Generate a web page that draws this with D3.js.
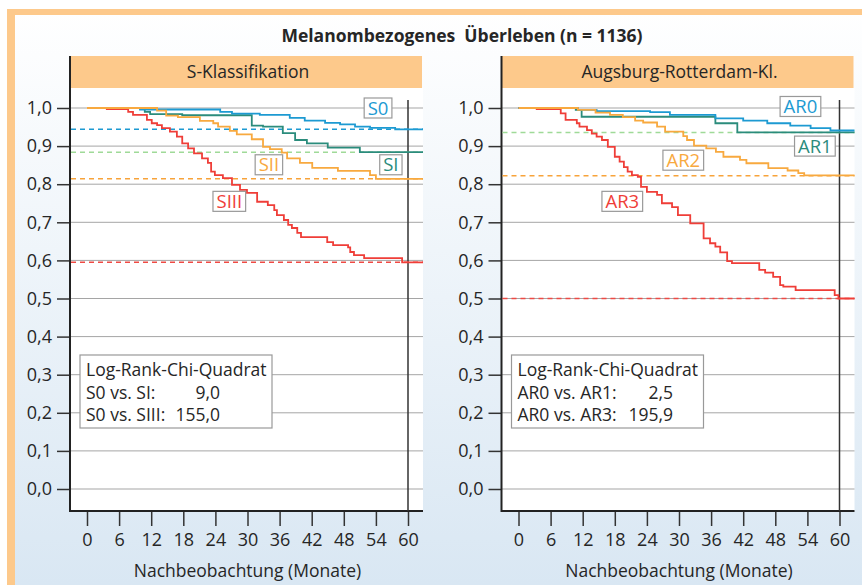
<!DOCTYPE html>
<html>
<head>
<meta charset="utf-8">
<script src="https://cdn.jsdelivr.net/npm/d3@7"></script>
<style>
  body { margin: 0; background: #fff; }
  svg { display: block; font-family: "Open Sans", sans-serif; }
</style>
</head>
<body>
<div id="chart"></div>
<script>
// ---- data ----
const title = "Melanombezogenes  Überleben (n = 1136)";
const xTitle = "Nachbeobachtung (Monate)";
const monthTicks = [0, 6, 12, 18, 24, 30, 36, 42, 48, 54, 60];
const survTicks = [0, 0.1, 0.2, 0.3, 0.4, 0.5, 0.6, 0.7, 0.8, 0.9, 1.0];

// S-Klassifikation
const s0Months = [0, 9.9, 24.9, 27.1, 32.3, 37.9, 40.7, 44.5, 47.3, 50.1, 52.9, 57.6];
const s0Surv = [1.0, 0.996, 0.990, 0.985, 0.982, 0.974, 0.967, 0.961, 0.957, 0.951, 0.948, 0.944];
const s1Months = [0, 10.8, 11.8, 17.8, 30.8, 32.9, 36.6, 38.9, 41.1, 45.0, 51.0];
const s1Surv = [1.0, 0.990, 0.984, 0.981, 0.954, 0.951, 0.934, 0.916, 0.907, 0.896, 0.884];
const s2Months = [0, 13.1, 14.8, 17.0, 21.1, 23.6, 24.5, 26.7, 28.0, 30.8, 32.9, 34.2, 36.4, 37.4, 39.8, 42.1, 46.9, 52.9, 54.0];
const s2Surv = [1.0, 0.993, 0.980, 0.976, 0.966, 0.960, 0.951, 0.940, 0.931, 0.918, 0.898, 0.892, 0.883, 0.868, 0.856, 0.843, 0.835, 0.824, 0.814];
const s3Months = [0, 3.7, 7.7, 8.6, 11.2, 12.1, 13.1, 14.0, 15.5, 16.8, 17.8, 18.9, 20.0, 21.5, 22.6, 23.2, 23.9, 25.4, 27.1, 28.6, 29.9, 31.8, 33.8, 35.0, 35.5, 36.8, 37.6, 38.3, 39.3, 40.0, 44.9, 46.0, 48.8, 49.2, 49.9, 51.8, 58.9];
const s3Surv = [1.0, 0.997, 0.990, 0.982, 0.969, 0.960, 0.955, 0.947, 0.938, 0.925, 0.907, 0.894, 0.881, 0.868, 0.856, 0.833, 0.824, 0.816, 0.798, 0.785, 0.777, 0.754, 0.745, 0.732, 0.719, 0.706, 0.693, 0.685, 0.672, 0.661, 0.648, 0.640, 0.634, 0.622, 0.614, 0.606, 0.595];
const sPlateaus = [0.944, 0.884, 0.814, 0.595];
const sStatLabels = ["S0 vs. SI:", "S0 vs. SIII:"];
const sStatValues = ["9,0", "155,0"];

// Augsburg-Rotterdam-Klassifikation
const ar0Months = [0, 11.1, 14.6, 24.6, 28.3, 36.8, 42.0, 46.5, 50.8, 54.6, 58.3];
const ar0Surv = [1.0, 0.995, 0.992, 0.989, 0.982, 0.973, 0.967, 0.960, 0.954, 0.947, 0.941];
const ar1Months = [0, 10.7, 11.8, 36.8, 40.9];
const ar1Surv = [1.0, 0.995, 0.977, 0.960, 0.936];
const ar2Months = [0, 11.1, 14.4, 17.1, 19.5, 21.8, 23.3, 25.9, 27.4, 30.8, 31.5, 32.8, 35.1, 36.9, 38.3, 41.4, 42.6, 46.7, 50.3, 52.3, 53.4];
const ar2Surv = [1.0, 0.995, 0.988, 0.982, 0.976, 0.967, 0.962, 0.951, 0.938, 0.926, 0.916, 0.901, 0.894, 0.885, 0.872, 0.864, 0.855, 0.842, 0.836, 0.829, 0.823];
const ar3Months = [0, 3.4, 7.9, 8.8, 10.9, 11.4, 12.8, 13.7, 14.6, 15.6, 16.7, 18.0, 18.9, 19.7, 20.4, 21.2, 22.3, 22.9, 24.0, 25.9, 26.8, 28.7, 29.8, 32.1, 34.6, 35.8, 36.8, 37.7, 39.0, 39.9, 45.0, 46.1, 47.6, 48.9, 49.5, 51.8, 59.1, 59.8];
const ar3Surv = [1.0, 0.997, 0.986, 0.969, 0.960, 0.951, 0.942, 0.933, 0.925, 0.916, 0.898, 0.872, 0.859, 0.845, 0.833, 0.824, 0.819, 0.793, 0.780, 0.772, 0.750, 0.740, 0.719, 0.697, 0.658, 0.645, 0.636, 0.621, 0.598, 0.593, 0.575, 0.568, 0.557, 0.535, 0.531, 0.522, 0.509, 0.500];
const arPlateaus = [null, 0.936, 0.822, 0.500];
const arStatLabels = ["AR0 vs. AR1:", "AR0 vs. AR3:"];
const arStatValues = ["2,5", "195,9"];

const statHeader = "Log-Rank-Chi-Quadrat";

// ---- styling ----
const W = 862, H = 585;
const colors = ["#1d9ad2", "#2b8c7c", "#f8a93f", "#ef3e38"];
const dashColors = ["#1d9ad2", "#9fda98", "#f8a33a", "#ef4a44"];
const textColor = "#262626";
const headerFill = "#fdc98b";
const fontSize = 17.5;

const fmt = d3.formatLocale({ decimal: ",", thousands: ".", grouping: [3], currency: ["", "€"] }).format(".1f");

const svg = d3.select("#chart").append("svg")
  .attr("width", W)
  .attr("height", H);

const defs = svg.append("defs");
const grad = defs.append("linearGradient")
  .attr("id", "bg").attr("x1", 0).attr("y1", 0).attr("x2", 0).attr("y2", 1);
grad.append("stop").attr("offset", "0%").attr("stop-color", "#ffffff");
grad.append("stop").attr("offset", "100%").attr("stop-color", "#d9e7f3");

svg.append("rect").attr("width", W).attr("height", H).attr("fill", "#fff");
svg.append("rect").attr("x", 7).attr("y", 9).attr("width", W - 7).attr("height", H - 9).attr("fill", "url(#bg)");
// orange frame (top and left)
svg.append("rect").attr("x", 7).attr("y", 9).attr("width", W - 7).attr("height", 6).attr("fill", headerFill);
svg.append("rect").attr("x", 7).attr("y", 9).attr("width", 8).attr("height", H - 9).attr("fill", headerFill);

svg.append("text")
  .attr("x", 462).attr("y", 42)
  .attr("text-anchor", "middle")
  .style("white-space", "pre")
  .attr("font-weight", "bold")
  .attr("font-size", 17.5)
  .attr("fill", textColor)
  .text(title);

const y = d3.scaleLinear().domain([0, 1]).range([489, 108]);

const panels = [
  {
    axisX: 70,
    header: "S-Klassifikation",
    series: [
      { name: "S0", months: s0Months, surv: s0Surv, label: [54.4, 1.0] },
      { name: "SI", months: s1Months, surv: s1Surv, label: [56.8, 0.851] },
      { name: "SII", months: s2Months, surv: s2Surv, label: [34.0, 0.851] },
      { name: "SIII", months: s3Months, surv: s3Surv, label: [26.6, 0.755] }
    ],
    plateaus: sPlateaus,
    statLabels: sStatLabels,
    statValues: sStatValues,
    valueRight: 140
  },
  {
    axisX: 501.5,
    header: "Augsburg-Rotterdam-Kl.",
    series: [
      { name: "AR0", months: ar0Months, surv: ar0Surv, label: [52.7, 1.004] },
      { name: "AR1", months: ar1Months, surv: ar1Surv, label: [55.4, 0.90] },
      { name: "AR2", months: ar2Months, surv: ar2Surv, label: [30.8, 0.863] },
      { name: "AR3", months: ar3Months, surv: ar3Surv, label: [19.4, 0.755] }
    ],
    plateaus: arPlateaus,
    statLabels: arStatLabels,
    statValues: arStatValues,
    valueRight: 161.5
  }
];

const panelW = 353;
const drawOrder = [3, 1, 0, 2];

panels.forEach(p => {
  const x0 = p.axisX;
  const x = d3.scaleLinear().domain([0, 60]).range([x0 + 17, x0 + 338]);
  const endMonth = x.invert(x0 + panelW);
  const g = svg.append("g");

  // white plot area + header band
  g.append("rect").attr("x", x0).attr("y", 88).attr("width", panelW).attr("height", 511 - 88).attr("fill", "#fff");
  g.append("rect").attr("x", x0).attr("y", 56).attr("width", panelW - 1).attr("height", 32).attr("fill", headerFill);
  g.append("text")
    .attr("x", x0 + 178).attr("y", 77.5)
    .attr("text-anchor", "middle")
    .attr("font-size", fontSize)
    .attr("fill", textColor)
    .text(p.header);

  // horizontal gridlines
  g.append("g").selectAll("line")
    .data(survTicks)
    .join("line")
    .attr("x1", x0).attr("x2", x0 + panelW)
    .attr("y1", d => y(d)).attr("y2", d => y(d))
    .attr("stroke", "#a5a5a5")
    .attr("stroke-width", 1);

  // y axis
  const yAxis = g.append("g")
    .attr("transform", `translate(${x0},0)`)
    .call(d3.axisLeft(y).tickValues(survTicks).tickSize(13).tickPadding(5).tickFormat(fmt));
  yAxis.select(".domain").remove();
  yAxis.selectAll("line").attr("stroke", "#333").attr("stroke-width", 1.5);
  yAxis.selectAll("text").attr("font-size", 18).attr("fill", textColor).attr("font-family", "Open Sans");

  // x axis
  const xAxis = g.append("g")
    .attr("transform", "translate(0,511)")
    .call(d3.axisBottom(x).tickValues(monthTicks).tickSize(15).tickPadding(7));
  xAxis.select(".domain").remove();
  xAxis.selectAll("line").attr("stroke", "#333").attr("stroke-width", 1.5);
  xAxis.selectAll("text").attr("font-size", 18).attr("fill", textColor).attr("font-family", "Open Sans");

  g.append("text")
    .attr("x", x(30)).attr("y", 577)
    .attr("text-anchor", "middle")
    .attr("font-size", fontSize)
    .attr("fill", textColor)
    .text(xTitle);

  // axis frame lines
  g.append("line").attr("x1", x0).attr("x2", x0).attr("y1", 56).attr("y2", 512)
    .attr("stroke", "#222").attr("stroke-width", 2);
  g.append("line").attr("x1", x0).attr("x2", x0 + panelW).attr("y1", 511).attr("y2", 511)
    .attr("stroke", "#222").attr("stroke-width", 2);
  g.append("line").attr("x1", x(60)).attr("x2", x(60)).attr("y1", 100).attr("y2", 511)
    .attr("stroke", "#333").attr("stroke-width", 1.5);

  // plateau (dashed) lines
  g.append("g").selectAll("line")
    .data(p.plateaus.map((v, i) => ({ v, i })).filter(d => d.v !== null))
    .join("line")
    .attr("x1", x0 + 1).attr("x2", x0 + panelW)
    .attr("y1", d => y(d.v)).attr("y2", d => y(d.v))
    .attr("stroke", d => dashColors[d.i])
    .attr("stroke-width", 1.5)
    .attr("stroke-dasharray", "5,4");

  // survival step curves
  const line = d3.line()
    .x(d => x(d[0]))
    .y(d => y(d[1]))
    .curve(d3.curveStepAfter);

  drawOrder.forEach(i => {
    const s = p.series[i];
    const pts = s.months.map((m, k) => [m, s.surv[k]]);
    pts.push([endMonth, s.surv[s.surv.length - 1]]);
    g.append("path")
      .datum(pts)
      .attr("fill", "none")
      .attr("stroke", colors[i])
      .attr("stroke-width", 1.8)
      .attr("d", line);
  });

  // curve labels in boxes
  p.series.forEach((s, i) => {
    const lg = g.append("g").attr("transform", `translate(${x(s.label[0])},${y(s.label[1])})`);
    const r = lg.append("rect").attr("fill", "#fff").attr("stroke", "#999").attr("stroke-width", 1.2);
    const t = lg.append("text")
      .attr("text-anchor", "middle")
      .attr("dy", "0.36em")
      .attr("font-size", 18.5)
      .attr("fill", colors[i])
      .text(s.name);
    const w = t.node().getComputedTextLength() + 7;
    r.attr("x", -w / 2).attr("y", -10).attr("width", w).attr("height", 20);
  });

  // log-rank box
  const sb = g.append("g").attr("transform", `translate(${x0 + 10},355)`);
  sb.append("rect").attr("width", 192).attr("height", 73)
    .attr("fill", "#fff").attr("stroke", "#999").attr("stroke-width", 1.2);
  sb.append("text").attr("x", 6).attr("y", 21).attr("font-size", fontSize).attr("fill", textColor).text(statHeader);
  p.statLabels.forEach((lab, k) => {
    sb.append("text").attr("x", 6).attr("y", 44 + k * 22)
      .attr("font-size", fontSize).attr("fill", textColor).text(lab);
    sb.append("text").attr("x", p.valueRight).attr("y", 44 + k * 22)
      .attr("text-anchor", "end")
      .attr("font-size", fontSize).attr("fill", textColor).text(p.statValues[k]);
  });
});
</script>
</body>
</html>
